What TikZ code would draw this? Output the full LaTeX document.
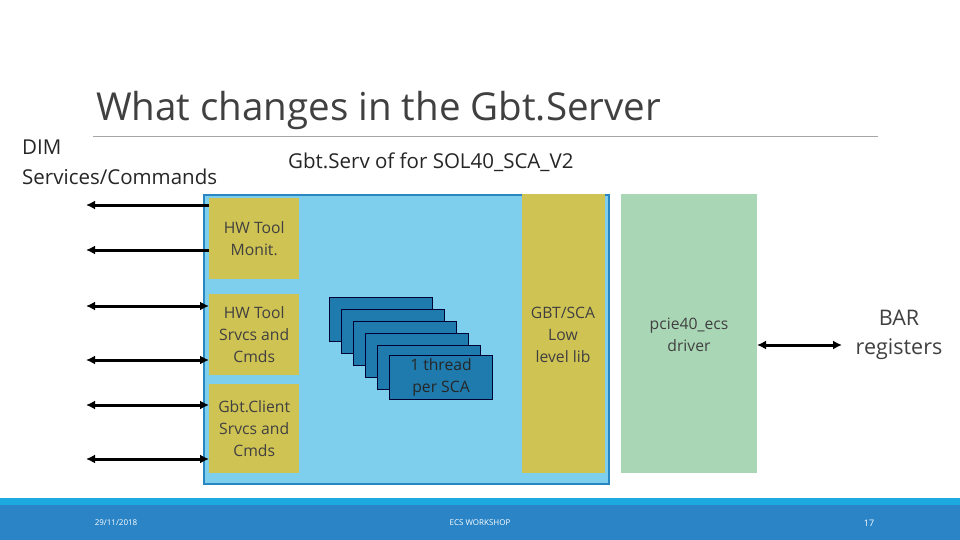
\documentclass[tikz,border=0pt]{standalone}
\usepackage{fontspec}
\setmainfont{Open Sans}
\usetikzlibrary{arrows.meta}
\definecolor{lblue}{HTML}{7ECFEE}
\definecolor{bedge}{HTML}{2A86C0}
\definecolor{olive}{HTML}{CFC354}
\definecolor{lgreen}{HTML}{A9D7B5}
\definecolor{thr}{HTML}{1F7BAE}
\definecolor{foot}{HTML}{2A84C6}
\definecolor{footl}{HTML}{1CA9E0}
\definecolor{txt}{HTML}{404040}
\begin{document}
\begin{tikzpicture}[x=1pt,y=-1pt,
  ol/.style={fill=olive,draw=none,anchor=north west},
  lab/.style={align=center,font=\fontsize{15.7}{22}\selectfont,text=txt},
  th/.style={fill=thr,draw=black!80!blue,line width=1pt,minimum width=103pt,minimum height=44pt,anchor=north west},
  arr/.style={line width=3pt,-{Latex[length=9pt,width=9pt]}},
  darr/.style={line width=3pt,{Latex[length=9pt,width=9pt]}-{Latex[length=9pt,width=9pt]}}]
\useasboundingbox (0,0) rectangle (960,540);
\fill[white] (0,0) rectangle (960,540);
\node[anchor=base west,font=\fontsize{38.5}{40}\selectfont,text=txt,inner sep=0] (title) at (96,121) {What changes in the Gbt.Server};
\draw[gray!70,line width=0.8pt] (93,136) -- (878,136);
\node[anchor=base west,font=\fontsize{20.5}{18}\selectfont,text=black!85,inner sep=0] (dim) at (22,155) {DIM};
\node[anchor=base west,font=\fontsize{20.5}{18}\selectfont,text=black!85,inner sep=0] (svc) at (22,184) {Services/Commands};
\node[anchor=base west,font=\fontsize{20.5}{18}\selectfont,text=black!85,inner sep=0] (gs) at (288,168) {Gbt.Serv of for SOL40\_SCA\_V2};
\node[fill=lblue,draw=bedge,line width=1.5pt,minimum width=405pt,minimum height=289pt,anchor=north west,inner sep=0] (main) at (203,194) {};
\node[ol,minimum width=90pt,minimum height=81pt] (mon) at (209,198) {};
\node[lab] at (mon.center) {HW Tool\\Monit.};
\node[ol,minimum width=90pt,minimum height=81pt] (srv) at (209,294) {};
\node[lab] at (srv.center) {HW Tool\\Srvcs and\\Cmds};
\node[ol,minimum width=90pt,minimum height=89pt] (cli) at (209,384) {};
\node[lab] at (cli.center) {Gbt.Client\\Srvcs and\\Cmds};
\node[ol,minimum width=83pt,minimum height=279pt] (gbt) at (522,194) {};
\node[lab] at (563,335) {GBT/SCA\\Low\\level lib};
\node[fill=lgreen,minimum width=136pt,minimum height=279pt,anchor=north west] (pcie) at (621,194) {};
\node[lab] (pl) at (689,335) {pcie40\_ecs\\driver};
\foreach \i in {0,...,4}{\node[th] (t\i) at (329+12*\i,297+12*\i) {};}
\node[th,lab,text=black!85] (t5) at (389,355) {1 thread\\per SCA};
\node[align=center,font=\fontsize{21.5}{29}\selectfont,text=txt] (bar) at (899,335) {BAR\\registers};
\coordinate (b1) at (757,345); \coordinate (b2) at (842,345);
\draw[darr] (b1) -- (b2);
\foreach \y/\n in {205/a,250/b}{\coordinate (l\n) at (86,\y); \coordinate (r\n) at (209,\y); \draw[arr] (r\n) -- (l\n);}
\foreach \y/\n in {306/c,360/d,405/e,459/f}{\coordinate (l\n) at (86,\y); \coordinate (r\n) at (209,\y); \draw[darr] (l\n) -- (r\n);}
\fill[footl] (0,498) rectangle (960,505);
\fill[foot] (0,505) rectangle (960,540);
\node[text=white,font=\fontsize{8}{9}\selectfont] (d) at (116,523) {29/11/2018};
\node[text=white,font=\fontsize{8}{9}\selectfont] (w) at (480,523) {ECS WORKSHOP};
\node[text=white,font=\fontsize{9}{10}\selectfont] (p) at (869,523) {17};
\end{tikzpicture}
\end{document}
